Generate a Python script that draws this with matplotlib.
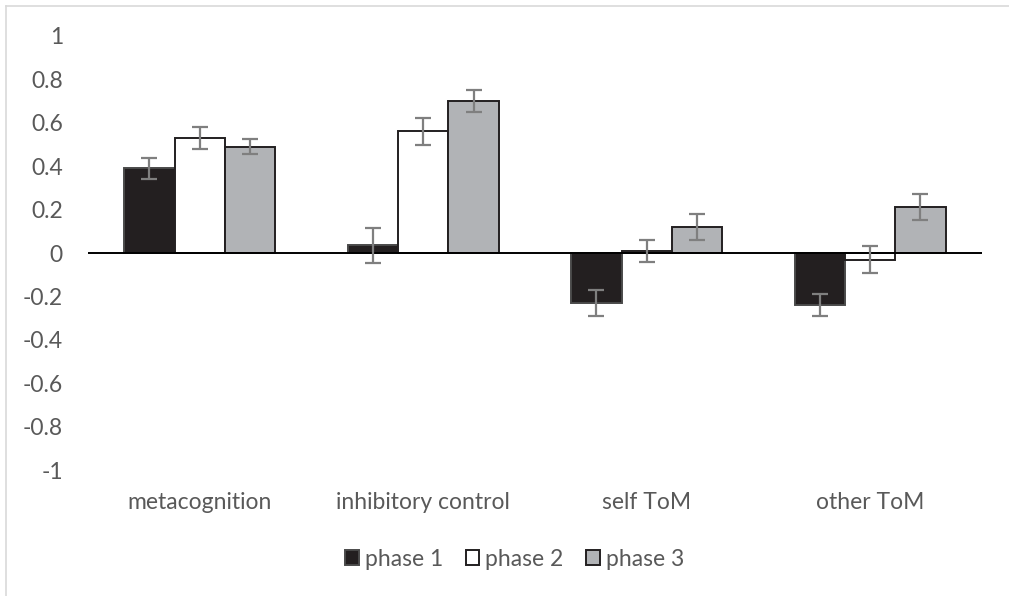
import matplotlib
matplotlib.use("Agg")
import matplotlib.pyplot as plt
from matplotlib.lines import Line2D
from matplotlib.patches import Patch
import numpy as np

categories = ["metacognition", "inhibitory control", "self ToM", "other ToM"]
series_names = ["phase 1", "phase 2", "phase 3"]
phase1 = [0.39, 0.035, -0.23, -0.24]
phase2 = [0.53, 0.56, 0.01, -0.03]
phase3 = [0.49, 0.70, 0.12, 0.21]
err1 = [0.05, 0.08, 0.06, 0.05]
err2 = [0.05, 0.06, 0.05, 0.06]
err3 = [0.035, 0.05, 0.06, 0.06]
yticks = [1, 0.8, 0.6, 0.4, 0.2, 0, -0.2, -0.4, -0.6, -0.8, -1]
ytick_labels = ["1", "0.8", "0.6", "0.4", "0.2", "0", "-0.2", "-0.4", "-0.6", "-0.8", "-1"]

plt.rcParams['font.family'] = ['Lato', 'DejaVu Sans']

fig = plt.figure(figsize=(10.09, 5.96), dpi=100)
ax = fig.add_axes([0.0872, 0.2114, 0.886, 0.7282])

x = np.arange(len(categories))
w = 0.225
fills = ["#231f20", "#ffffff", "#b1b3b6"]
edges = ["#4a4a4a", "#231f20", "#231f20"]
vals = [phase1, phase2, phase3]
errs = [err1, err2, err3]
for i in range(3):
    ax.bar(x + (i - 1) * w, vals[i], width=w, color=fills[i], edgecolor=edges[i],
           linewidth=1.4, zorder=2, label=series_names[i])
for i in range(3):
    ax.errorbar(x + (i - 1) * w, vals[i], yerr=errs[i], fmt='none', ecolor="#7f7f7f",
                elinewidth=1.6, capsize=6, capthick=1.6, zorder=4)

ax.axhline(0, color="#000000", linewidth=1.4, zorder=3)
ax.set_xlim(-0.5, len(categories) - 0.5)
ax.set_ylim(-1, 1)
for s in ax.spines.values():
    s.set_visible(False)
ax.set_yticks(yticks)
ax.set_yticklabels(ytick_labels)
ax.set_xticks(x)
ax.set_xticklabels(categories)
ax.tick_params(axis='y', length=0, pad=18, labelsize=16.5, labelcolor="#595959")
ax.tick_params(axis='x', length=0, pad=16, labelsize=16.5, labelcolor="#595959")

handles = [Patch(facecolor=fills[i], edgecolor=edges[i], linewidth=1.4) for i in range(3)]
leg = fig.legend(handles, series_names, loc='center', bbox_to_anchor=(0.51, 0.062),
                 ncol=3, frameon=False, fontsize=16.5, handlelength=0.6, handleheight=0.6,
                 handletextpad=0.25, columnspacing=1.0, labelcolor="#595959")

# outer chart border (top and left visible)
fig.add_artist(Line2D([6/1009, 6/1009], [0, 1 - 5.5/596], transform=fig.transFigure,
                      color="#d9d9d9", linewidth=1.2))
fig.add_artist(Line2D([6/1009, 1], [1 - 5.5/596, 1 - 5.5/596], transform=fig.transFigure,
                      color="#d9d9d9", linewidth=1.2))

fig.savefig("out.png", dpi=100)
